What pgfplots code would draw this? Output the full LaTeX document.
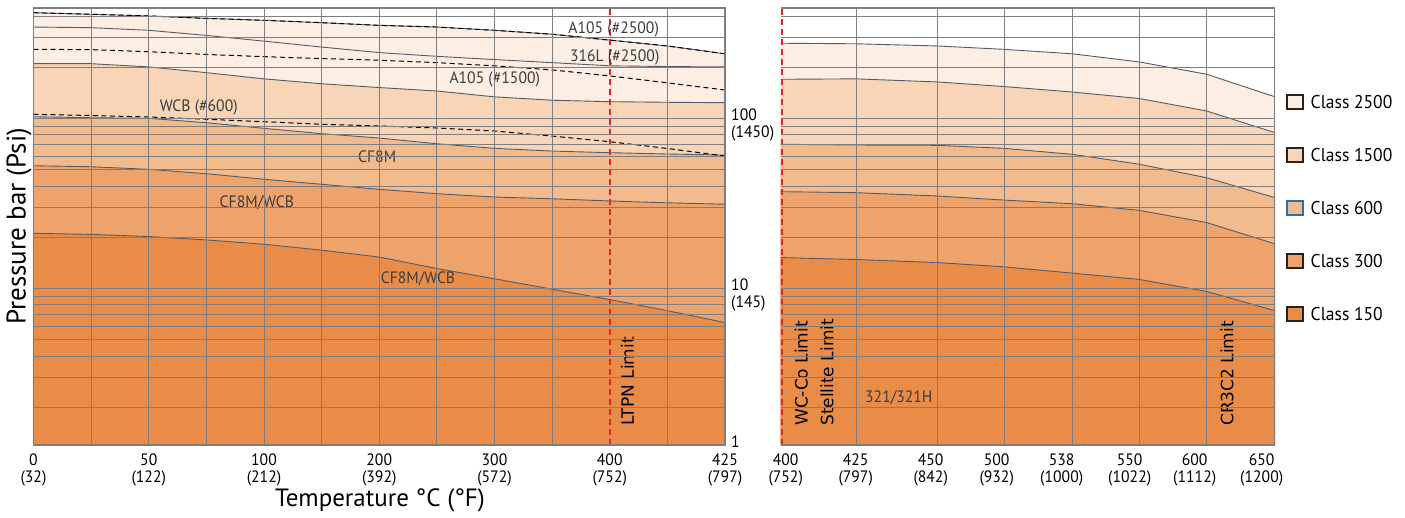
\documentclass[border=0pt]{standalone}
\usepackage{fontspec}
\setmainfont{PT Sans}
\newfontfamily\cond[FakeStretch=0.95]{PT Sans}
\newfontfamily\dv{DejaVu Sans}
\usepackage{pgfplots}
\pgfplotsset{compat=1.18}
\definecolor{cA}{HTML}{FCEEE3}
\definecolor{cB}{HTML}{F8D5B6}
\definecolor{cC}{HTML}{F2BB8E}
\definecolor{cD}{HTML}{EDA36B}
\definecolor{cE}{HTML}{E98C47}
\definecolor{gridc}{HTML}{7E7E80}
\definecolor{linec}{HTML}{555A68}
\definecolor{redl}{HTML}{E3262B}
\definecolor{labc}{HTML}{3C3C3C}
\definecolor{legb}{HTML}{2B2118}
\definecolor{legblue}{HTML}{2F6FB0}
\newcommand\tickfont{\cond\fontsize{16.5}{16.8}\selectfont}
\newcommand\labfont{\cond\fontsize{16.5}{18}\selectfont}
\newcommand\limfont{\dv\fontsize{17}{19}\selectfont}
\newcommand\legfont{\cond\fontsize{18.5}{20}\selectfont}
\newcommand\twol[2]{\begin{tabular}[t]{@{}l@{}}#1\\#2\end{tabular}}
\pgfplotstableread{
x   l1   l2   l3   l4    l5    l6    l7   l8
0   419  345  255  210   105.8 102.4 52.7 21.1
1   410  342  254  210   104.1 101.0 52.0 20.8
2   401  330  247  201   102.0 100.2 50.2 20.2
3   388  308  238  186   98.9  94.4  47.3 19.3
4   378  285  231  171   95.7  87.5  43.9 18.2
5   366  263  225  160   92.4  81.4  41.0 16.8
6   353  244  220  152   90.3  76.7  38.3 15.3
7   345  232  213  145   87.9  71.0  36.1 13.1
8   330  222  204  134   84.4  66.7  34.5 11.4
9   313  213  193  128   78.8  64.3  33.7 9.9
10  289  204  178  125.5 73.0  62.9  32.7 8.6
11  267  202  162  124.5 66.6  61.8  31.9 7.4
12  240  201  147  123.8 60.1  60.9  31.3 6.3
}\lefttab
\pgfplotstableread{
x     a    b     c    d    e
0     277  170   70.5 37.1 15.2
75.3  275  171   69.8 36.6 14.8
156.6 267  164   69.5 35.0 14.2
223.6 255  154   66.7 33.1 13.4
292   240  143   61.5 31.5 12.3
358.6 215  131   53.8 28.8 11.3
426   182  110.6 44.8 24.4 9.6
494.3 134  82.5  34.2 18.3 7.4
}\righttab
\begin{document}
\begin{tikzpicture}
\useasboundingbox (0pt,0pt) rectangle (1405pt,518pt);
% ---------------- left panel ----------------
\begin{axis}[
  scale only axis, anchor=south west, height=437pt,
  at={(33.5pt,73pt)}, width=691.5pt,
  axis on top,
  ymode=log, ymin=1.2, ymax=446.5,
  ytick={1.205,10,100},
  minor ytick={2,3,4,5,6,7,8,9,20,30,40,50,60,70,80,90,200,300,400},
  xmin=0, xmax=12,
  xtick={0,2,4,6,8,10,12},
  xticklabels={{0\\(32)},{50\\(122)},{100\\(212)},{200\\(392)},{300\\(572)},{400\\(752)},{425\\(797)}},
  minor xtick={1,2,3,4,5,6,7,8,9,11},
  xmajorgrids=false, xminorgrids, ymajorgrids, yminorgrids,
  major tick length=0pt, minor tick length=0pt,
  grid style={draw=gridc, line width=0.9pt},
  minor grid style={draw=gridc, line width=0.9pt},
  axis line style={draw=gridc, line width=1.3pt},
  tick label style={font=\tickfont, text=black},
  xticklabel style={align=center, anchor=north, inner sep=0pt, yshift=-8.5pt},
  yticklabel pos=right,
  yticklabels={1,{\twol{10}{(145)}},{\twol{100}{(1450)}}},
  yticklabel style={anchor=mid west, inner sep=0pt, xshift=6pt},
  xlabel={Temperature °C (°F)},
  ylabel={Pressure bar (Psi)},
  xlabel style={at={(axis description cs:0.501,-0.126)}, anchor=center, font=\fontsize{25}{28}\selectfont},
  ylabel style={at={(axis description cs:-0.021,0.5)}, anchor=center, font=\fontsize{27}{30}\selectfont},
]
\addplot[fill=cA, draw=none] table[x=x,y=l1]{\lefttab} \closedcycle;
\addplot[fill=cB, draw=none] table[x=x,y=l4]{\lefttab} \closedcycle;
\addplot[fill=cC, draw=none] table[x=x,y=l6]{\lefttab} \closedcycle;
\addplot[fill=cD, draw=none] table[x=x,y=l7]{\lefttab} \closedcycle;
\addplot[fill=cE, draw=none] table[x=x,y=l8]{\lefttab} \closedcycle;
\addplot[draw=linec, line width=0.9pt, no markers] table[x=x,y=l1]{\lefttab};
\addplot[draw=linec, line width=0.9pt, no markers] table[x=x,y=l2]{\lefttab};
\addplot[draw=linec, line width=0.9pt, no markers] table[x=x,y=l4]{\lefttab};
\addplot[draw=linec, line width=0.9pt, no markers] table[x=x,y=l6]{\lefttab};
\addplot[draw=linec, line width=0.9pt, no markers] table[x=x,y=l7]{\lefttab};
\addplot[draw=linec, line width=0.9pt, no markers] table[x=x,y=l8]{\lefttab};
\addplot[draw=black, line width=1pt, dash pattern=on 5pt off 3.5pt, no markers] table[x=x,y=l1]{\lefttab};
\addplot[draw=black, line width=1pt, dash pattern=on 5pt off 3.5pt, no markers] table[x=x,y=l3]{\lefttab};
\addplot[draw=black, line width=1pt, dash pattern=on 5pt off 3.5pt, no markers] table[x=x,y=l5]{\lefttab};
\addplot[draw=redl, line width=2.1pt, dash pattern=on 6pt off 4pt, no markers] coordinates {(10,1.2) (10,446.5)};
\node[font=\labfont, text=labc, inner sep=0pt] at (rel axis cs:0.839,0.951) {A105 (\#2500)};
\node[font=\labfont, text=labc, inner sep=0pt] at (rel axis cs:0.8405,0.887) {316L (\#2500)};
\node[font=\labfont, text=labc, inner sep=0pt] at (rel axis cs:0.667,0.8375) {A105 (\#1500)};
\node[font=\labfont, text=labc, inner sep=0pt] at (rel axis cs:0.239,0.773) {WCB (\#600)};
\node[font=\labfont, text=labc, inner sep=0pt] at (rel axis cs:0.497,0.660) {CF8M};
\node[font=\labfont, text=labc, inner sep=0pt] at (rel axis cs:0.323,0.554) {CF8M/WCB};
\node[font=\labfont, text=labc, inner sep=0pt] at (rel axis cs:0.556,0.380) {CF8M/WCB};
\node[font=\limfont, rotate=90, anchor=west, inner sep=0pt] at (rel axis cs:0.859,0.0446) {LTPN Limit};
\end{axis}
% ---------------- right panel ----------------
\begin{axis}[
  scale only axis, anchor=south west, height=437pt,
  at={(780.7pt,73pt)}, width=494.3pt,
  axis on top,
  separate axis lines,
  ymode=log, ymin=1.2, ymax=446.5,
  ytick={1.205,10,100},
  minor ytick={2,3,4,5,6,7,8,9,20,30,40,50,60,70,80,90,200,300,400},
  yticklabels={},
  xmin=0, xmax=494.3,
  xtick={5,75,150,216,281,349,414,481},
  xticklabels={{400\\(752)},{425\\(797)},{450\\(842)},{500\\(932)},{538\\(1000)},{550\\(1022)},{600\\(1112)},{650\\(1200)}},
  minor xtick={75.3,156.6,223.6,292,358.6,426,493.8},
  xminorgrids, ymajorgrids, yminorgrids,
  major tick length=0pt, minor tick length=0pt,
  grid style={draw=gridc, line width=0.9pt},
  minor grid style={draw=gridc, line width=0.9pt},
  x axis line style={draw=gridc, line width=1.3pt},
  y axis line style={draw=none},
  tick label style={font=\tickfont, text=black},
  xticklabel style={align=center, anchor=north, inner sep=0pt, yshift=-8.5pt},
]
\addplot[fill=cA, draw=none] table[x=x,y=a]{\righttab} \closedcycle;
\addplot[fill=cB, draw=none] table[x=x,y=b]{\righttab} \closedcycle;
\addplot[fill=cC, draw=none] table[x=x,y=c]{\righttab} \closedcycle;
\addplot[fill=cD, draw=none] table[x=x,y=d]{\righttab} \closedcycle;
\addplot[fill=cE, draw=none] table[x=x,y=e]{\righttab} \closedcycle;
\addplot[draw=linec, line width=0.9pt, no markers] table[x=x,y=a]{\righttab};
\addplot[draw=linec, line width=0.9pt, no markers] table[x=x,y=b]{\righttab};
\addplot[draw=linec, line width=0.9pt, no markers] table[x=x,y=c]{\righttab};
\addplot[draw=linec, line width=0.9pt, no markers] table[x=x,y=d]{\righttab};
\addplot[draw=linec, line width=0.9pt, no markers] table[x=x,y=e]{\righttab};
\addplot[draw=redl, line width=2.1pt, dash pattern=on 6pt off 4pt, no markers] coordinates {(1.1,1.2) (1.1,446.5)};
\node[font=\limfont, rotate=90, anchor=west, inner sep=0pt] at (rel axis cs:0.0417,0.0435) {WC-Co Limit};
\node[font=\limfont, rotate=90, anchor=west, inner sep=0pt] at (rel axis cs:0.0937,0.0435) {Stellite Limit};
\node[font=\limfont, rotate=90, anchor=west, inner sep=0pt] at (rel axis cs:0.903,0.0435) {CR3C2 Limit};
\node[font=\labfont, text=labc, inner sep=0pt] at (rel axis cs:0.239,0.107) {321/321H};
\end{axis}
% ---------------- legend ----------------
\foreach \c/\col/\bd/\txt in {102/cA/legb/Class 2500, 155/cB/legb/Class 1500, 208/cC/legblue/Class 600, 261/cD/legb/Class 300, 314/cE/legb/Class 150}{
  \draw[fill=\col, draw=\bd, line width=1.3pt] (1287pt,518pt-\c pt-7pt) rectangle (1303pt,518pt-\c pt+7pt);
  \node[font=\legfont, anchor=west, inner sep=0pt] at (1310.5pt,518pt-\c pt) {\txt};
}
\end{tikzpicture}
\end{document}
